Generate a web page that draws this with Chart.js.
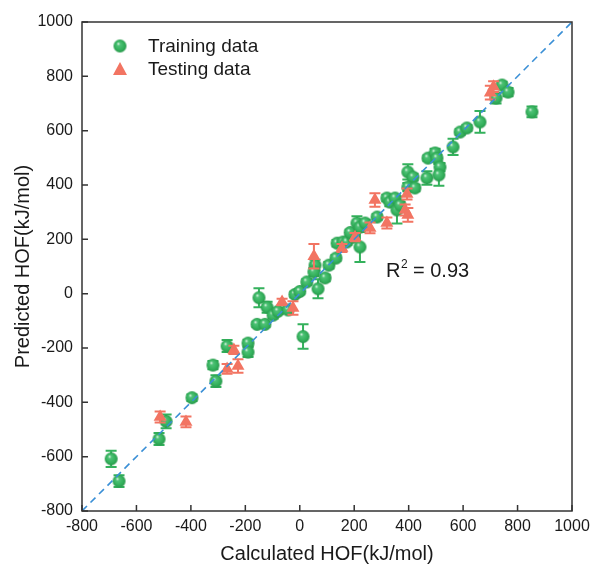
<!DOCTYPE html>
<html>
<head>
<meta charset="utf-8">
<script src="https://cdn.jsdelivr.net/npm/chart.js@4/dist/chart.umd.min.js"></script>
<style>
  html, body { margin: 0; padding: 0; background: #fff; }
  #wrap { width: 590px; height: 566px; }
</style>
</head>
<body>
<div id="wrap"><canvas id="hof"></canvas></div>
<script>
// calculated HOF (x), predicted HOF (y), error half-width (kJ/mol)
const trainX   = [-693, -664, -517, -491, -396, -319, -308, -267, -190, -190, -150, -120, -157, -128, -98, -80, -43, -18, 0, 26, 67, 12, 56, 52, 93, 107, 133, 137, 159, 173, 196, 185, 210, 221, 221, 240, 284, 320, 331, 350, 357, 368, 397, 416, 397, 423, 467, 471, 497, 504, 515, 511, 563, 589, 614, 662, 853, 721, 743, 765];
const trainY   = [-608, -690, -535, -470, -383, -263, -322, -193, -182, -215, -15, -50, -113, -113, -79, -65, -60, -3, 8, 43, 18, -158, 105, 80, 58, 105, 131, 186, 190, 190, 208, 225, 260, 245, 172, 260, 282, 352, 337, 352, 308, 326, 448, 429, 392, 389, 426, 499, 518, 499, 466, 437, 540, 595, 610, 632, 669, 720, 768, 742];
const trainErr = [30, 22, 22, 25, 12, 15, 22, 22, 12, 18, 35, 20, 10, 10, 12, 10, 10, 10, 10, 10, 35, 45, 20, 15, 12, 12, 10, 12, 12, 10, 15, 10, 25, 15, 55, 12, 10, 12, 15, 10, 50, 12, 28, 12, 15, 12, 25, 10, 15, 12, 15, 40, 30, 10, 10, 40, 20, 20, 12, 15];

const testX   = [-513, -418, -267, -227, -242, -65, -25, 52, 155, 203, 258, 276, 320, 394, 387, 397, 700, 712];
const testY   = [-454, -472, -277, -266, -207, -31, -53, 138, 168, 208, 242, 345, 260, 367, 308, 290, 740, 762];
const testErr = [20, 20, 18, 25, 15, 12, 25, 45, 15, 15, 20, 25, 20, 20, 20, 25, 25, 20];

const AXIS_MIN = -800;
const AXIS_MAX = 1000;
const AXIS_STEP = 200;

const GREEN = '#34b15c';
const RED   = '#f27462';
const DIAG  = '#3a8fd6';
const INK   = '#1a1a1a';
const FONT  = "'Liberation Sans', Arial, sans-serif";

const toPts = (xs, ys) => xs.map((x, i) => ({ x: x, y: ys[i] }));

// shaded sphere marker for training points
function sphere(r) {
    const c = document.createElement('canvas');
    const s = Math.ceil(r * 2 + 2);
    c.width = s; c.height = s;
    const g = c.getContext('2d');
    const grd = g.createRadialGradient(s * 0.38, s * 0.34, 0.3, s / 2, s / 2, r);
    grd.addColorStop(0, '#e6f7ea');
    grd.addColorStop(0.22, '#4fc277');
    grd.addColorStop(0.7, GREEN);
    grd.addColorStop(1, '#28974b');
    g.fillStyle = grd;
    g.beginPath();
    g.arc(s / 2, s / 2, r, 0, Math.PI * 2);
    g.fill();
    return c;
}
const ball = sphere(6.5);

const errorBars = {
    id: 'errorBars',
    beforeDatasetDraw(chart, args) {
        const ds = chart.data.datasets[args.index];
        if (!ds.err) return;
        const ctx = chart.ctx;
        const ys = chart.scales.y;
        const area = chart.chartArea;
        ctx.save();
        ctx.beginPath();
        ctx.rect(area.left, area.top, area.right - area.left, area.bottom - area.top);
        ctx.clip();
        ctx.strokeStyle = ds.barColor;
        ctx.lineWidth = 2;
        args.meta.data.forEach((el, i) => {
            const v = ds.data[i].y;
            const top = ys.getPixelForValue(v + ds.err[i]);
            const bot = ys.getPixelForValue(v - ds.err[i]);
            ctx.beginPath();
            ctx.moveTo(el.x, top); ctx.lineTo(el.x, bot);
            ctx.moveTo(el.x - 5.5, top); ctx.lineTo(el.x + 5.5, top);
            ctx.moveTo(el.x - 5.5, bot); ctx.lineTo(el.x + 5.5, bot);
            ctx.stroke();
        });
        ctx.restore();
    }
};

const frameAndNotes = {
    id: 'frameAndNotes',
    afterDraw(chart) {
        const ctx = chart.ctx;
        const a = chart.chartArea;
        const xs = chart.scales.x, ys = chart.scales.y;
        ctx.save();
        ctx.strokeStyle = '#333';
        ctx.lineWidth = 1.5;
        ctx.strokeRect(a.left, a.top, a.right - a.left, a.bottom - a.top);
        // inward ticks
        ctx.beginPath();
        xs.ticks.forEach(t => {
            const px = xs.getPixelForValue(t.value);
            ctx.moveTo(px, a.bottom); ctx.lineTo(px, a.bottom - 6);
        });
        ys.ticks.forEach(t => {
            const py = ys.getPixelForValue(t.value);
            ctx.moveTo(a.left, py); ctx.lineTo(a.left + 6, py);
        });
        ctx.stroke();

        // legend
        ctx.drawImage(ball, 120 - ball.width / 2, 46 - ball.height / 2);
        ctx.fillStyle = RED;
        ctx.beginPath();
        ctx.moveTo(120, 62); ctx.lineTo(127, 75); ctx.lineTo(113, 75);
        ctx.closePath(); ctx.fill();
        ctx.fillStyle = INK;
        ctx.font = '19px ' + FONT;
        ctx.textBaseline = 'middle';
        ctx.fillText('Training data', 148, 47);
        ctx.fillText('Testing data', 148, 70);

        // R² note
        ctx.font = '20px ' + FONT;
        ctx.textBaseline = 'alphabetic';
        ctx.fillText('R', 386, 277);
        const rw = ctx.measureText('R').width;
        ctx.font = '12px ' + FONT;
        ctx.fillText('2', 386 + rw + 0.5, 268);
        ctx.font = '20px ' + FONT;
        ctx.fillText(' = 0.93', 386 + rw + 7, 277);
        ctx.restore();
    }
};

new Chart(document.getElementById('hof'), {
    type: 'scatter',
    data: {
        datasets: [
            {
                type: 'line',
                label: 'y = x',
                data: [{ x: AXIS_MIN, y: AXIS_MIN }, { x: AXIS_MAX, y: AXIS_MAX }],
                borderColor: DIAG,
                borderWidth: 1.6,
                borderDash: [7, 5],
                pointRadius: 0,
                fill: false,
                order: 0
            },
            {
                label: 'Testing data',
                data: toPts(testX, testY),
                err: testErr,
                barColor: RED,
                pointStyle: 'triangle',
                radius: 7.5,
                backgroundColor: RED,
                borderColor: RED,
                borderWidth: 0,
                order: 1
            },
            {
                label: 'Training data',
                data: toPts(trainX, trainY),
                err: trainErr,
                barColor: GREEN,
                pointStyle: ball,
                radius: 6.5,
                backgroundColor: GREEN,
                borderColor: GREEN,
                order: 2
            }
        ]
    },
    plugins: [errorBars, frameAndNotes],
    options: {
        responsive: true,
        maintainAspectRatio: false,
        animation: false,
        layout: { padding: { top: 22, right: 18, left: 0, bottom: 0 } },
        plugins: { legend: { display: false }, tooltip: { enabled: false } },
        scales: {
            x: {
                type: 'linear',
                min: AXIS_MIN, max: AXIS_MAX,
                grid: { display: false, drawTicks: false },
                border: { display: false },
                afterFit: (s) => { s.height = 55; s.paddingLeft = 0; s.paddingRight = 0; },
                ticks: { stepSize: AXIS_STEP, padding: 6, color: INK, font: { family: FONT, size: 16 }, callback: (v) => String(v) },
                title: { display: true, text: 'Calculated HOF(kJ/mol)', color: INK, padding: { top: 5, bottom: 0 }, font: { family: FONT, size: 20 } }
            },
            y: {
                type: 'linear',
                min: AXIS_MIN, max: AXIS_MAX,
                grid: { display: false, drawTicks: false },
                border: { display: false },
                afterFit: (s) => { s.width = 82; s.paddingTop = 0; s.paddingBottom = 0; },
                ticks: { stepSize: AXIS_STEP, padding: 9, color: INK, font: { family: FONT, size: 16 }, callback: (v) => String(v) },
                title: { display: true, text: 'Predicted HOF(kJ/mol)', color: INK, padding: { top: 11, bottom: 0 }, font: { family: FONT, size: 20 } }
            }
        }
    }
});
</script>
</body>
</html>
